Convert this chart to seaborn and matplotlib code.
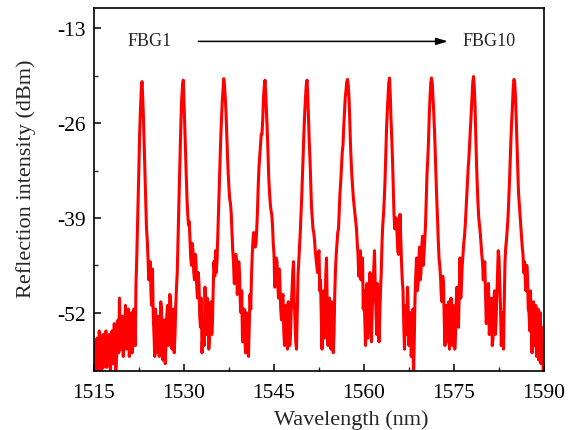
import numpy as np
import pandas as pd
import matplotlib
matplotlib.use("Agg")
import matplotlib.pyplot as plt
from matplotlib.ticker import MultipleLocator
import seaborn as sns

# ---- data (reflection spectrum) ----
# refl_XXXX: readings every 0.25 nm starting at the segment start
# refl_XXXX_mid: readings taken half way (0.125 nm) after each of those points
wl_start = 1515.0
wl_step = 0.125

refl_1515 = [-56.0, -60.5, -55.5, -58.5, -56.5, -60.5, -55.0, -57.5, -54.5, -58.0,
             -55.0, -60.0, -54.5, -57.0, -55.5, -58.5, -53.0, -50.0, -57.0, -52.5,
             -56.0, -51.0, -55.0, -51.5, -57.0, -52.0, -56.0, -53.0, -48.0, -40.0]
refl_1515_mid = [-59.5, -57.0, -60.0, -54.5, -59.0, -57.5, -59.5, -55.0, -59.5, -56.0,
                 -58.5, -56.0, -59.0, -53.5, -60.0, -55.0, -57.5, -55.0, -54.0, -58.0,
                 -53.5, -57.0, -52.5, -58.0, -54.5, -57.5, -51.5, -56.5, -44.5, -35.0]

refl_1522 = [-30.5, -24.0, -20.3, -25.5, -33.0, -40.5, -44.5, -46.5, -49.5, -46.0,
             -55.0, -51.5, -57.5, -52.5, -55.5, -51.5, -58.5, -53.0, -56.0, -51.0,
             -54.5, -50.0, -57.0, -51.5, -55.0, -48.5, -42.0, -33.5, -25.5, -21.0]
refl_1522_mid = [-27.0, -21.5, -22.5, -29.0, -37.0, -42.0, -47.5, -45.0, -51.0, -52.5,
                 -58.0, -54.0, -53.5, -58.0, -50.5, -55.5, -54.0, -59.0, -52.5, -56.5,
                 -49.5, -54.0, -53.0, -57.5, -51.0, -46.5, -38.0, -29.5, -22.5, -20.1]

refl_1530 = [-23.0, -30.0, -36.5, -40.0, -42.0, -45.5, -43.5, -47.5, -45.0, -50.0,
             -48.0, -54.0, -57.5, -53.0, -48.5, -55.0, -51.0, -55.5, -50.5, -53.0,
             -45.0, -43.5, -45.0, -37.5, -31.0, -25.5, -21.5, -20.8, -24.5, -30.5]
refl_1530_mid = [-26.5, -33.5, -38.5, -39.5, -44.5, -42.5, -46.5, -44.0, -48.5, -46.5,
                 -52.5, -50.0, -55.0, -56.5, -52.0, -50.0, -57.0, -51.0, -55.0, -48.5,
                 -47.0, -46.5, -41.5, -34.0, -28.0, -23.0, -19.9, -22.5, -27.5, -33.0]

refl_1537 = [-35.0, -37.0, -41.0, -45.0, -47.5, -45.0, -48.5, -46.5, -52.0, -56.0,
             -51.5, -57.5, -53.0, -58.0, -49.5, -47.0, -42.0, -41.5, -42.5, -38.0,
             -32.0, -29.0, -27.5, -22.5, -20.1, -24.5, -30.0, -35.5, -38.0, -40.0]
refl_1537_mid = [-36.5, -38.5, -43.5, -48.0, -44.0, -49.5, -45.0, -50.5, -49.0, -53.5,
                 -55.0, -52.0, -57.0, -54.0, -51.5, -44.0, -41.0, -43.0, -40.5, -34.5,
                 -30.5, -27.5, -25.5, -21.0, -22.0, -27.0, -33.5, -37.0, -38.5, -42.5]

refl_1545 = [-44.0, -47.0, -45.0, -50.0, -48.0, -53.0, -49.5, -56.5, -51.0, -57.0,
             -52.5, -55.0, -49.0, -45.0, -53.0, -57.0, -47.0, -43.0, -38.5, -33.0,
             -27.0, -22.5, -20.1, -25.5, -31.0, -37.5, -40.5, -42.0, -44.5, -46.5]
refl_1545_mid = [-48.5, -44.5, -48.0, -46.0, -51.5, -50.0, -54.5, -52.0, -55.5, -50.5,
                 -56.5, -51.5, -46.5, -50.5, -56.0, -52.0, -45.0, -41.0, -36.0, -30.0,
                 -24.5, -20.8, -22.0, -28.5, -34.5, -39.0, -41.0, -43.5, -45.5, -44.0]

refl_1552 = [-43.5, -47.5, -57.0, -49.0, -52.0, -44.5, -56.5, -50.0, -57.0, -53.5,
             -55.0, -46.0, -42.5, -40.5, -35.5, -32.0, -29.0, -24.5, -21.5, -20.0,
             -22.5, -29.0, -33.5, -36.5, -38.5, -40.5, -44.0, -45.5, -47.5, -44.5]
refl_1552_mid = [-49.0, -52.5, -53.0, -55.5, -47.0, -51.0, -52.5, -55.5, -50.5, -57.5,
                 -49.5, -44.0, -41.0, -38.0, -34.0, -30.0, -26.5, -22.5, -20.3, -20.8,
                 -25.5, -31.5, -35.0, -37.5, -39.5, -42.5, -47.0, -43.5, -46.0, -51.5]

refl_1560 = [-49.0, -56.5, -48.0, -53.0, -46.5, -56.0, -49.0, -43.5, -52.0, -48.0,
             -56.0, -49.0, -42.5, -38.5, -34.0, -27.0, -22.5, -19.8, -25.5, -31.0,
             -38.5, -39.5, -41.0, -44.0, -38.5, -45.0, -49.0, -57.0, -51.0, -48.5]
refl_1560_mid = [-53.0, -51.0, -55.5, -49.5, -52.0, -51.5, -46.0, -48.5, -55.0, -51.0,
                 -52.5, -46.5, -40.0, -36.5, -30.5, -24.5, -20.5, -22.0, -28.0, -35.0,
                 -40.5, -39.0, -43.5, -41.5, -42.0, -47.5, -53.5, -52.5, -55.0, -51.5]

refl_1567 = [-56.5, -52.0, -55.0, -61.0, -50.0, -44.5, -48.0, -43.0, -46.5, -41.5,
             -44.0, -40.0, -33.0, -28.5, -22.5, -19.8, -22.5, -27.0, -33.5, -39.0,
             -44.5, -47.0, -50.5, -48.0, -56.5, -51.0, -54.0, -57.0, -50.0, -56.5]
refl_1567_mid = [-53.5, -58.0, -51.5, -56.0, -47.0, -49.0, -45.0, -47.5, -43.0, -45.5,
                 -42.0, -36.5, -31.0, -25.0, -20.5, -20.5, -24.5, -30.0, -36.5, -42.0,
                 -45.5, -49.5, -47.0, -53.0, -52.5, -56.0, -50.5, -53.0, -54.5, -51.0]

refl_1575 = [-52.0, -55.0, -48.5, -54.0, -44.5, -48.0, -44.0, -41.5, -38.0, -34.0,
             -30.5, -26.5, -22.5, -19.6, -23.5, -31.5, -37.0, -40.0, -42.5, -45.0,
             -46.5, -49.0, -52.0, -48.0, -54.0, -50.0, -55.5, -49.0, -53.5, -47.0]
refl_1575_mid = [-57.0, -50.5, -52.0, -49.0, -50.0, -45.5, -42.5, -40.0, -36.0, -32.0,
                 -28.5, -24.5, -20.5, -21.0, -27.5, -34.5, -39.0, -41.0, -44.0, -47.5,
                 -45.0, -53.5, -49.5, -55.0, -51.5, -56.5, -51.0, -55.0, -50.0, -43.5]

refl_1582 = [-44.5, -51.0, -55.0, -57.0, -45.0, -42.0, -39.0, -34.0, -28.0, -23.5,
             -20.0, -22.5, -29.0, -35.5, -38.5, -41.5, -44.0, -45.0, -49.0, -47.0,
             -52.0, -49.0, -57.5, -50.5, -55.0, -58.0, -51.5, -56.0, -59.0, -54.0, -59.5]
refl_1582_mid = [-48.0, -56.5, -52.0, -50.5, -43.0, -40.5, -36.5, -31.0, -25.5, -21.0,
                 -20.5, -25.5, -32.5, -37.0, -40.0, -43.0, -46.5, -47.5, -45.5, -51.5,
                 -54.5, -53.5, -52.0, -56.5, -51.0, -54.5, -58.5, -52.0, -56.5, -60.5]

x_ticks = [1515, 1530, 1545, 1560, 1575, 1590]
y_ticks = [-13, -26, -39, -52]
label_first = "FBG1"
label_last = "FBG10"

segments = [(refl_1515, refl_1515_mid), (refl_1522, refl_1522_mid),
            (refl_1530, refl_1530_mid), (refl_1537, refl_1537_mid),
            (refl_1545, refl_1545_mid), (refl_1552, refl_1552_mid),
            (refl_1560, refl_1560_mid), (refl_1567, refl_1567_mid),
            (refl_1575, refl_1575_mid), (refl_1582, refl_1582_mid)]
parts = []
for main, mid in segments:
    n = len(mid)
    parts.append(np.column_stack((main[:n], mid)).ravel())
    parts.append(np.asarray(main[n:], dtype=float))
intensity = np.concatenate(parts)
wavelength = wl_start + wl_step * np.arange(len(intensity))
df = pd.DataFrame({"Wavelength": wavelength, "Intensity": intensity})

# ---- style ----
sns.set_theme(style="ticks")
plt.rcParams["font.family"] = ["Liberation Serif", "DejaVu Serif"]
plt.rcParams["axes.unicode_minus"] = False

fig = plt.figure(figsize=(5.78, 4.31), dpi=100)
ax = fig.add_axes([94 / 578, 1 - 372 / 431, 450 / 578, 363 / 431])

sns.lineplot(data=df, x="Wavelength", y="Intensity", color="#ff0000",
             linewidth=2.2, estimator=None, sort=False, ax=ax,
             solid_joinstyle="round")

ax.set_xlim(1515, 1590)
ax.set_ylim(-60, -10.2)
ax.set_xticks(x_ticks)
ax.set_yticks(y_ticks)
ax.xaxis.set_minor_locator(MultipleLocator(7.5))
ax.yaxis.set_minor_locator(MultipleLocator(6.5))
ax.tick_params(which="major", direction="in", length=5, width=1.1,
               labelsize=15.5, colors="black")
ax.tick_params(axis="x", which="major", pad=8.5)
ax.tick_params(axis="y", which="major", pad=6)
ax.tick_params(which="minor", direction="in", length=3, width=1.0)
for s in ax.spines.values():
    s.set_linewidth(1.2)
    s.set_color("black")

ax.set_xlabel("Wavelength (nm)", fontsize=16)
ax.set_ylabel("Reflection intensity (dBm)", fontsize=16)
ax.xaxis.set_label_coords(0.571, -0.105)
ax.yaxis.set_label_coords(-0.129, 0.533)

ax.annotate("", xy=(1574.0, -14.78), xytext=(1532.4, -14.78),
            arrowprops=dict(arrowstyle="-|>,head_length=0.5,head_width=0.15",
                            color="black", lw=1.1, mutation_scale=14,
                            shrinkA=0, shrinkB=0))
ax.text(1524.33, -14.72, label_first, fontsize=13, ha="center", va="center")
ax.text(1580.9, -14.72, label_last, fontsize=13, ha="center", va="center")

fig.savefig("out.png", dpi=100)
